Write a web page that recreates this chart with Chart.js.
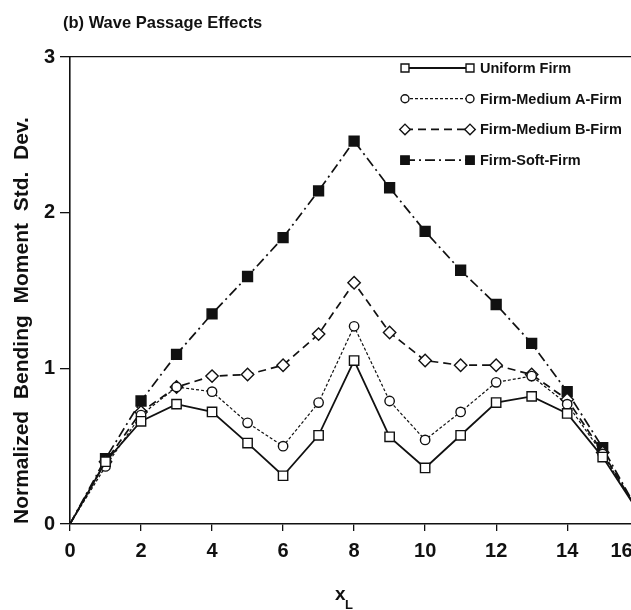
<!DOCTYPE html>
<html>
<head>
<meta charset="utf-8">
<script src="https://cdn.jsdelivr.net/npm/chart.js@4.4.1/dist/chart.umd.min.js"></script>
<style>
  html, body { margin: 0; padding: 0; background: #fff; overflow: hidden; }
  #wrap { width: 674px; height: 610px; }
</style>
</head>
<body>
<div id="wrap"><canvas id="grafico" width="674" height="610"></canvas></div>
<script>
// positions along the span (x_L) and the four soil profiles
const posicoes = [0, 1, 2, 3, 4, 5, 6, 7, 8, 9, 10, 11, 12, 13, 14, 15, 16];
const uniformFirm = [0, 0.40, 0.66, 0.77, 0.72, 0.52, 0.31, 0.57, 1.05, 0.56, 0.36, 0.57, 0.78, 0.82, 0.71, 0.43, 0.08];
const mediumA = [0, 0.37, 0.70, 0.88, 0.85, 0.65, 0.50, 0.78, 1.27, 0.79, 0.54, 0.72, 0.91, 0.95, 0.77, 0.45, 0.08];
const mediumB = [0, 0.40, 0.72, 0.88, 0.95, 0.96, 1.02, 1.22, 1.55, 1.23, 1.05, 1.02, 1.02, 0.96, 0.80, 0.46, 0.08];
const softFirm = [0, 0.42, 0.79, 1.09, 1.35, 1.59, 1.84, 2.14, 2.46, 2.16, 1.88, 1.63, 1.41, 1.16, 0.85, 0.49, 0.08];

const nomes = ['Uniform Firm', 'Firm-Medium A-Firm', 'Firm-Medium B-Firm', 'Firm-Soft-Firm'];
const ticksX = [0, 2, 4, 6, 8, 10, 12, 14, 16];
const ticksY = [0, 1, 2, 3];

const PRETO = '#111';
const FONTE = '"Liberation Sans", Arial, sans-serif';

function serie(valores) {
    return valores.map((v, i) => ({ x: posicoes[i], y: v }));
}

// no marker at the two supports (first and last positions)
const raio = r => ctx => (ctx.dataIndex === 0 || ctx.dataIndex === posicoes.length - 1 ? 0 : r);

const estilos = [
    { pointStyle: 'rect', radius: 6.6, fill: '#fff', width: 1.8, dash: [] },
    { pointStyle: 'circle', radius: 4.7, fill: '#fff', width: 1.2, dash: [3, 2] },
    { pointStyle: 'rectRot', radius: 6.2, fill: '#fff', width: 1.7, dash: [8, 5] },
    { pointStyle: 'rect', radius: 7, fill: PRETO, width: 1.7, dash: [10, 4, 2, 4] }
];

const datasets = [uniformFirm, mediumA, mediumB, softFirm].map((valores, i) => ({
    label: nomes[i],
    data: serie(valores),
    borderColor: PRETO,
    borderWidth: estilos[i].width,
    borderDash: estilos[i].dash,
    pointStyle: estilos[i].pointStyle,
    pointRadius: raio(estilos[i].radius),
    pointBackgroundColor: estilos[i].fill,
    pointBorderColor: PRETO,
    pointBorderWidth: 1.4,
    tension: 0
}));

const textosPlugin = {
    id: 'textosManuais',
    afterDraw(chart) {
        const ctx = chart.ctx;
        ctx.save();
        ctx.fillStyle = PRETO;
        ctx.textBaseline = 'alphabetic';
        ctx.textAlign = 'left';

        ctx.font = `bold 16.5px ${FONTE}`;
        ctx.fillText('(b) Wave Passage Effects', 63, 28);

        // x_L with subscript
        ctx.font = `bold 19px ${FONTE}`;
        ctx.fillText('x', 335, 600);
        ctx.font = `bold 13px ${FONTE}`;
        ctx.fillText('L', 345, 609);

        // legend: line segment with a marker at each end
        chart.data.datasets.forEach((ds, i) => {
            const y = 68 + i * 30.7;
            const est = estilos[i];
            ctx.strokeStyle = PRETO;
            ctx.lineWidth = est.width;
            ctx.setLineDash(est.dash);
            ctx.beginPath();
            ctx.moveTo(405, y);
            ctx.lineTo(470, y);
            ctx.stroke();
            ctx.setLineDash([]);
            [405, 470].forEach(px => {
                ctx.fillStyle = est.fill;
                ctx.strokeStyle = PRETO;
                ctx.lineWidth = 1.4;
                Chart.helpers.drawPoint(ctx, { pointStyle: est.pointStyle, radius: est.radius * 0.85, borderWidth: 1.4, rotation: 0 }, px, y);
            });
            ctx.fillStyle = PRETO;
            ctx.font = `bold 14.5px ${FONTE}`;
            ctx.textBaseline = 'middle';
            ctx.fillText(ds.label, 480, y + 1);
        });
        ctx.restore();
    }
};

new Chart(document.getElementById('grafico'), {
    type: 'line',
    data: { datasets },
    options: {
        responsive: false,
        animation: false,
        layout: { padding: { top: 57, right: 22, left: 0, bottom: 0 } },
        plugins: { legend: { display: false }, tooltip: { enabled: false } },
        scales: {
            x: {
                type: 'linear',
                min: 0,
                max: 16,
                afterBuildTicks: s => { s.ticks = ticksX.map(v => ({ value: v })); },
                afterFit: s => { s.height = 86; },
                grid: { display: true, drawOnChartArea: false, drawTicks: true, tickLength: 7, color: PRETO, lineWidth: 1.3 },
                border: { display: true, color: PRETO, width: 1.6 },
                ticks: {
                    color: PRETO,
                    padding: 8,
                    maxRotation: 0,
                    // last label sits left of its tick, against the edge
                    callback: v => (v === 16 ? '16      ' : String(v)),
                    font: { family: FONTE, size: 20, weight: 'bold' }
                }
            },
            xTopo: {
                type: 'linear',
                position: 'top',
                min: 0,
                max: 16,
                afterFit: s => { s.height = 0; },
                grid: { display: false },
                border: { display: true, color: PRETO, width: 1.3 },
                ticks: { display: false }
            },
            y: {
                min: 0,
                max: 3,
                afterBuildTicks: s => { s.ticks = ticksY.map(v => ({ value: v })); },
                afterFit: s => { s.width = 70; },
                grid: { display: true, drawOnChartArea: false, drawTicks: true, tickLength: 10, color: PRETO, lineWidth: 1.3 },
                border: { display: true, color: PRETO, width: 1.6 },
                ticks: { color: PRETO, padding: 5, font: { family: FONTE, size: 20, weight: 'bold' } },
                title: {
                    display: true,
                    text: 'Normalized  Bending  Moment  Std.  Dev.',
                    align: 'start',
                    color: PRETO,
                    padding: { top: 10, bottom: 0 },
                    font: { family: FONTE, size: 21, weight: 'bold' }
                }
            }
        }
    },
    plugins: [textosPlugin]
});
</script>
</body>
</html>
